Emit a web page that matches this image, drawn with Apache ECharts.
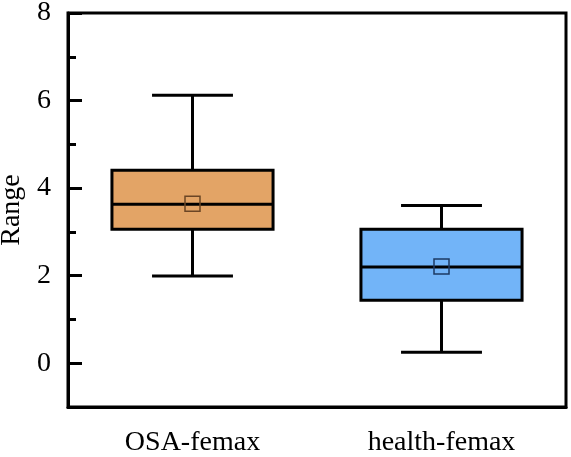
<!DOCTYPE html>
<html>
<head>
<meta charset="utf-8">
<script src="https://cdn.jsdelivr.net/npm/echarts@6/dist/echarts.min.js"></script>
<style>html,body{margin:0;padding:0;background:#fff}#c{width:571px;height:457px}</style>
</head>
<body>
<div id="c"></div>
<script>
const categories = ['OSA-femax', 'health-femax'];
const minVals = [1.99, 0.25];
const q1Vals = [3.06, 1.44];
const medianVals = [3.63, 2.20];
const q3Vals = [4.41, 3.06];
const maxVals = [6.12, 3.60];
const meanVals = [3.64, 2.21];
const fillColors = ['#E3A466', '#72B4F8'];
const meanColors = ['#6b4525', '#1d3a63'];

const FONT = '"Liberation Serif", "Times New Roman", serif';
const data = categories.map((c, i) => [i, minVals[i], q1Vals[i], medianVals[i], q3Vals[i], maxVals[i], meanVals[i]]);

const chart = echarts.init(document.getElementById('c'), null, {renderer: 'canvas'});
chart.setOption({
  animation: false,
  backgroundColor: '#fff',
  grid: {left: 68, right: 5, top: 13, bottom: 50, show: true, borderColor: '#000', borderWidth: 3,
    backgroundColor: 'transparent', containLabel: false, outerBoundsMode: 'none'},
  xAxis: {
    type: 'category', data: categories, boundaryGap: true,
    axisLine: {onZero: false, lineStyle: {color: '#000', width: 3}},
    axisTick: {inside: true, alignWithLabel: true, length: 14, lineStyle: {color: '#000', width: 3}},
    axisLabel: {color: '#000', fontFamily: FONT, fontSize: 28, margin: 22},
    splitLine: {show: false}
  },
  yAxis: [{
    type: 'value', min: -1, max: 8, minInterval: 2, maxInterval: 2, offset: 0,
    name: 'Range', nameLocation: 'middle', nameGap: 41,
    nameTextStyle: {color: '#000', fontFamily: FONT, fontSize: 28},
    axisLine: {show: true, onZero: false, lineStyle: {color: '#000', width: 3}},
    axisTick: {show: true, inside: true, length: 14, lineStyle: {color: '#000', width: 3}},
    axisLabel: {color: '#000', fontFamily: FONT, fontSize: 28, margin: 17,
      formatter: v => (v >= 0 && v % 2 === 0) ? String(v) : ''},
    splitLine: {show: false}
  }, {
    type: 'value', min: -1, max: 8, interval: 1, position: 'left', offset: 0,
    axisLine: {show: false, onZero: false},
    axisTick: {show: true, inside: true, length: 8, lineStyle: {color: '#000', width: 3}},
    axisLabel: {show: false},
    splitLine: {show: false}
  }],
  series: [{
    type: 'custom',
    data: data,
    encode: {x: 0, y: [1, 2, 3, 4, 5, 6]},
    renderItem(params, api) {
      const i = api.value(0);
      const band = api.size([1, 0])[0];
      const bw = band * 0.647;
      const cw = band * 0.325;
      const pMin = api.coord([i, api.value(1)]);
      const pQ1 = api.coord([i, api.value(2)]);
      const pMed = api.coord([i, api.value(3)]);
      const pQ3 = api.coord([i, api.value(4)]);
      const pMax = api.coord([i, api.value(5)]);
      const pMean = api.coord([i, api.value(6)]);
      const x = pMed[0];
      const ls = {stroke: '#000', lineWidth: 3};
      const sq = 15;
      return {
        type: 'group',
        children: [
          {type: 'line', shape: {x1: x, y1: pMax[1], x2: x, y2: pQ3[1]}, style: ls},
          {type: 'line', shape: {x1: x, y1: pQ1[1], x2: x, y2: pMin[1]}, style: ls},
          {type: 'line', shape: {x1: x - cw / 2, y1: pMax[1], x2: x + cw / 2, y2: pMax[1]}, style: ls},
          {type: 'line', shape: {x1: x - cw / 2, y1: pMin[1], x2: x + cw / 2, y2: pMin[1]}, style: ls},
          {type: 'rect', shape: {x: x - bw / 2, y: pQ3[1], width: bw, height: pQ1[1] - pQ3[1]},
            style: {fill: fillColors[i], stroke: '#000', lineWidth: 3}},
          {type: 'line', shape: {x1: x - bw / 2, y1: pMed[1], x2: x + bw / 2, y2: pMed[1]}, style: ls},
          {type: 'rect', shape: {x: x - sq / 2, y: pMean[1] - sq / 2, width: sq, height: sq},
            style: {fill: 'transparent', stroke: meanColors[i], lineWidth: 1.5}}
        ]
      };
    }
  }]
});
</script>
</body>
</html>
